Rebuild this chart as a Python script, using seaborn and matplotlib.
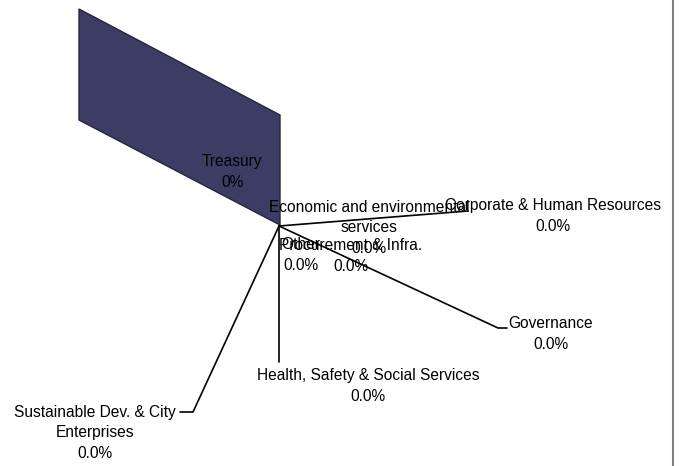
import matplotlib
matplotlib.use("Agg")
import matplotlib.pyplot as plt
from matplotlib import font_manager
from matplotlib.patches import Polygon
import seaborn as sns
import pandas as pd

# Departments and their share of the total
categories = [
    "Treasury",
    "Economic and environmental\nservices",
    "Corporate & Human Resources",
    "Procurement & Infra.",
    "Other",
    "Governance",
    "Health, Safety & Social Services",
    "Sustainable Dev. & City\nEnterprises",
]
values = [0, 0.0, 0.0, 0.0, 0.0, 0.0, 0.0, 0.0]
value_labels = ["0%", "0.0%", "0.0%", "0.0%", "0.0%", "0.0%", "0.0%", "0.0%"]

# Layout (pixel space): pie centre, label anchors and leader elbows
centre = (279, 226)
label_pos = [
    (232, 172), (369, 228), (553, 216), (351, 256),
    (301, 255), (551, 334), (368, 386), (95, 433),
]
elbows = [
    None, None, [(468, 211)], None, None,
    [(498, 328), (507, 328)], [(279, 362)], [(193, 412), (180, 412)],
]
slice_face = [(79, 9), (280, 115), (280, 225), (79, 120)]

sns.set_theme(style="white")
names = {f.name for f in font_manager.fontManager.ttflist}
if "Liberation Sans Narrow" in names:
    family, size = ["Liberation Sans Narrow", "DejaVu Sans"], 13.6
else:
    family, size = ["Liberation Sans", "DejaVu Sans"], 11.2
plt.rcParams["font.family"] = family

fig = plt.figure(figsize=(6.81, 4.66), dpi=100)
ax = fig.add_axes([0, 0, 1, 1])

# Extruded side of the single visible slice
ax.add_patch(Polygon(slice_face, closed=True, facecolor="#3d3c64",
                     edgecolor="#262540", linewidth=1.0, zorder=1))

# Leader lines from the pie centre to each label
rows = []
for cat, pts in zip(categories, elbows):
    if not pts:
        continue
    path = [centre] + pts
    for i, (x, y) in enumerate(path):
        rows.append({"label": cat, "order": i, "x": x, "y": y})
leaders = pd.DataFrame(rows)
sns.lineplot(data=leaders, x="x", y="y", units="label", estimator=None,
             sort=False, color="black", linewidth=1.2, ax=ax, zorder=2)
ax.set_xlim(0, 681)
ax.set_ylim(466, 0)
ax.axis("off")

for cat, val, (x, y) in zip(categories, value_labels, label_pos):
    ax.text(x, y, f"{cat}\n{val}", ha="center", va="center",
            multialignment="center", fontsize=size, color="black",
            linespacing=1.45, zorder=3)

# Right border of the chart area
ax.plot([673, 673], [0, 466], color="#808080", linewidth=1.5, zorder=4)

fig.savefig("out.png", dpi=100)
